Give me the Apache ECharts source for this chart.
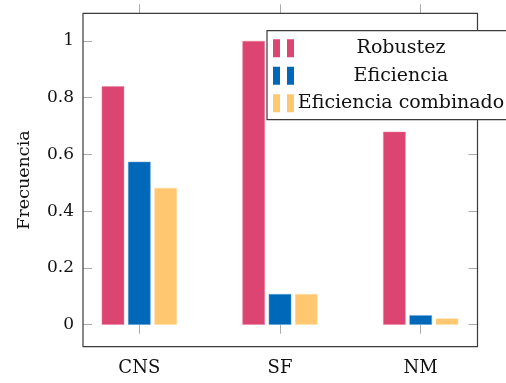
<!DOCTYPE html>
<html>
<head>
<meta charset="utf-8">
<script src="https://cdn.jsdelivr.net/npm/echarts@6/dist/echarts.min.js"></script>
<style>html,body{margin:0;padding:0;background:#fff;}#c{width:506px;height:383px;}</style>
</head>
<body>
<div id="c"></div>
<script>
const categories = ['CNS', 'SF', 'NM'];
const robustez = [0.84, 1.0, 0.68];
const eficiencia = [0.574, 0.108, 0.033];
const eficienciaCombinado = [0.482, 0.108, 0.022];
const yTicks = [0, 0.2, 0.4, 0.6, 0.8, 1];
const seriesNames = ['Robustez', 'Eficiencia', 'Eficiencia combinado'];
const colors = ['#DC4571', '#0068B8', '#FFC870'];
const borders = ['#E87A9A', '#4A94D0', '#FFDBA0'];

const FONT = 'DejaVu Serif';
const FS = 17;
const TXT = '#111';
const Y_MIN = -0.0775, Y_MAX = 1.0975;

const chart = echarts.init(document.getElementById('c'), null, {renderer: 'canvas'});
const barData = [robustez, eficiencia, eficienciaCombinado];

chart.setOption({
  animation: false,
  textStyle: {fontFamily: FONT},
  grid: [
    {left: 83, right: 28.5, top: 13.3, bottom: 36.3, show: true, borderColor: '#3a3a3a', borderWidth: 1.2, backgroundColor: 'transparent', z: 3},
    {left: 68.95, right: 14.95, top: 13.3, bottom: 36.3}
  ],
  xAxis: [
    {type: 'value', gridIndex: 0, min: 0, max: 1, show: false},
    {type: 'category', gridIndex: 1, data: categories, position: 'bottom',
     axisLine: {show: false},
     axisTick: {show: true, alignWithLabel: true, length: 9, lineStyle: {color: '#aaaaaa', width: 1}},
     axisLabel: {color: TXT, fontFamily: FONT, fontSize: FS + 1, margin: 13}},
    {type: 'category', gridIndex: 1, data: categories, position: 'top',
     axisLine: {show: false},
     axisTick: {show: true, alignWithLabel: true, length: 9, lineStyle: {color: '#aaaaaa', width: 1}},
     axisLabel: {show: false}}
  ],
  yAxis: [
    {type: 'value', gridIndex: 0, min: Y_MIN, max: Y_MAX, position: 'left',
     name: 'Frecuencia', nameLocation: 'middle', nameGap: 50, nameRotate: 90,
     nameTextStyle: {color: TXT, fontFamily: FONT, fontSize: FS + 0.5},
     axisLine: {show: false}, splitLine: {show: false},
     axisTick: {show: true, inside: true, length: 9, customValues: yTicks, lineStyle: {color: '#aaaaaa', width: 1}},
     axisLabel: {color: TXT, fontFamily: FONT, fontSize: FS, margin: 9, customValues: yTicks}},
    {type: 'value', gridIndex: 0, min: Y_MIN, max: Y_MAX, position: 'right',
     axisLine: {show: false}, splitLine: {show: false},
     axisTick: {show: true, inside: true, length: 9, customValues: yTicks, lineStyle: {color: '#aaaaaa', width: 1}},
     axisLabel: {show: false}},
    {type: 'value', gridIndex: 1, min: Y_MIN, max: Y_MAX, show: false}
  ],
  legend: {
    orient: 'vertical', left: 267, top: 30.7,
    data: seriesNames,
    backgroundColor: '#fff', borderColor: '#3a3a3a', borderWidth: 1.2, borderRadius: 0,
    padding: [8, 30, 7, 6],
    itemWidth: 21, itemHeight: 18, itemGap: 8.5,
    icon: 'path://M0,0h7v18h-7z M14,0h7v18h-7z',
    itemStyle: {borderWidth: 0},
    formatter: n => '{a|' + n + '}',
    textStyle: {color: TXT, fontFamily: FONT, fontSize: 19,
      rich: {a: {width: 204, align: 'center', fontFamily: FONT, fontSize: 19, color: TXT, lineHeight: 18}}},
    z: 10
  },
  series: barData.map((d, i) => ({
    name: seriesNames[i], type: 'bar', xAxisIndex: 1, yAxisIndex: 2,
    data: d, barWidth: 22.5, barGap: '17%',
    itemStyle: {color: colors[i], borderColor: borders[i], borderWidth: 0.5}
  }))
});
</script>
</body>
</html>
